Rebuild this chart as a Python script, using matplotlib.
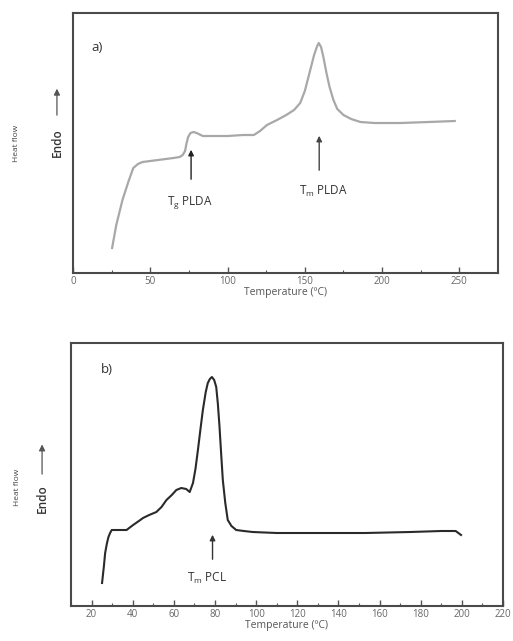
import matplotlib
matplotlib.use('Agg')
import matplotlib.pyplot as plt
from matplotlib.ticker import MultipleLocator

plt.rcParams['font.family'] = ['Open Sans', 'DejaVu Sans']

# panel a) PLDA (heat flow in arbitrary units)
temp_a = [25.3, 28, 32, 36, 39, 42, 45, 50, 55, 60, 65, 69, 71, 72.5, 73.5, 74.5, 76, 78, 80, 84,
          90, 100, 110, 117, 121, 125.5, 132, 138, 143, 147, 150, 153.5, 156, 158, 159, 160.5,
          162, 164, 166, 168.5, 171, 175, 180, 186, 195, 212, 230, 247]
hf_a = [25, 48, 73, 92, 105, 109, 111, 112, 113, 114, 115, 116, 118, 122, 130, 136, 140, 141, 140, 137,
        137, 137, 138, 138, 142, 148, 153, 158, 163, 170, 182, 203, 218, 227, 230, 226,
        216, 200, 186, 173, 164, 158, 154, 151, 150, 150, 151, 152]

# panel b) PCL
temp_b = [25.1, 26, 26.6, 27.4, 28.2, 29, 29.8, 33, 37, 40.2, 43, 45, 48, 51.5, 54, 56.4, 59, 61.2,
          63.6, 66, 67.7, 69.3, 70.5, 71.7, 73, 74.1, 75.5, 76.5, 77.5, 78.5, 79.6, 80.6, 81.4,
          82.2, 83, 83.8, 85, 86.2, 88, 90.3, 94, 98.3, 110, 121, 140, 153, 175, 190, 197, 199.6]
hf_b = [23, 40, 53, 62, 69, 73, 76, 76, 76, 81, 85, 88, 91, 94, 99, 106, 111, 116,
        118, 117, 114, 123, 137, 156, 178, 196, 214, 223, 227, 229, 226, 219, 202,
        179, 152, 126, 103, 86, 80, 76, 75, 74, 73, 73, 73, 73, 74, 75, 75, 71]

ticks_a = [0, 50, 100, 150, 200, 250]
ticks_b = [20, 40, 60, 80, 100, 120, 140, 160, 180, 200, 220]

fig = plt.figure(figsize=(5.13, 6.41), dpi=100)
ax1 = fig.add_axes([0.1423, 0.5741, 0.8285, 0.4056])
ax2 = fig.add_axes([0.1384, 0.0546, 0.8421, 0.4103])

ax1.plot(temp_a, hf_a, color='#a8a8a8', linewidth=1.6, solid_joinstyle='round')
ax2.plot(temp_b, hf_b, color='#2a2a2a', linewidth=1.5, solid_joinstyle='round')

ax1.set_xlim(0, 275)
ax1.set_ylim(0, 260)
ax2.set_xlim(10, 220)
ax2.set_ylim(0, 263)

ax1.set_xticks(ticks_a)
ax1.xaxis.set_minor_locator(MultipleLocator(25))
ax2.set_xticks(ticks_b)
ax2.xaxis.set_minor_locator(MultipleLocator(10))

for ax in (ax1, ax2):
    ax.set_yticks([])
    for s in ax.spines.values():
        s.set_color('#4a4a4a')
        s.set_linewidth(1.5)
    ax.tick_params(axis='x', which='both', direction='in', colors='#555555', labelsize=7,
                   pad=2, labelcolor='#666666')
    ax.tick_params(axis='x', which='major', length=4, width=1)
    ax.tick_params(axis='x', which='minor', length=2.5, width=0.8)
    ax.set_xlabel('Temperature (ºC)', fontsize=7.5, color='#555555', labelpad=0)

# labels a)
ax1.text(15.5, 226, 'a)', fontsize=9.5, color='#333333', va='center', ha='center')
ax1.annotate('', xy=(76.4, 126), xytext=(76.4, 91),
             arrowprops=dict(arrowstyle='-|>', color='#222222', lw=1, mutation_scale=8))
ax1.text(75.8, 71, r'T$_{\mathregular{g}}$ PLDA', fontsize=8.5, color='#333333', ha='center', va='center')
ax1.annotate('', xy=(159.3, 140), xytext=(159.3, 100),
             arrowprops=dict(arrowstyle='-|>', color='#444444', lw=1, mutation_scale=8))
ax1.text(162, 82, r'T$_{\mathregular{m}}$ PLDA', fontsize=8.5, color='#333333', ha='center', va='center')

# labels b)
ax2.text(27.5, 236, 'b)', fontsize=9.5, color='#333333', va='center', ha='center')
ax2.annotate('', xy=(78.8, 74), xytext=(78.8, 44),
             arrowprops=dict(arrowstyle='-|>', color='#333333', lw=1, mutation_scale=8))
ax2.text(75.9, 28, r'T$_{\mathregular{m}}$ PCL', fontsize=8.5, color='#333333', ha='center', va='center')

# y axis captions
fig.text(0.033, 0.777, 'Heat flow', rotation=90, fontsize=6, color='#444444', ha='center', va='center')
fig.text(0.111, 0.778, 'Endo', rotation=90, fontsize=8.5, color='#333333', weight='semibold',
         ha='center', va='center')
fig.add_artist(matplotlib.patches.FancyArrowPatch((0.111, 0.816), (0.111, 0.866),
               transform=fig.transFigure, arrowstyle='-|>', color='#555555', lw=0.9, mutation_scale=9))

fig.text(0.035, 0.240, 'Heat flow', rotation=90, fontsize=6, color='#444444', ha='center', va='center')
fig.text(0.082, 0.2215, 'Endo', rotation=90, fontsize=8.5, color='#333333', weight='semibold',
         ha='center', va='center')
fig.add_artist(matplotlib.patches.FancyArrowPatch((0.082, 0.256), (0.082, 0.311),
               transform=fig.transFigure, arrowstyle='-|>', color='#555555', lw=0.9, mutation_scale=9))

fig.savefig('out.png', dpi=100)
